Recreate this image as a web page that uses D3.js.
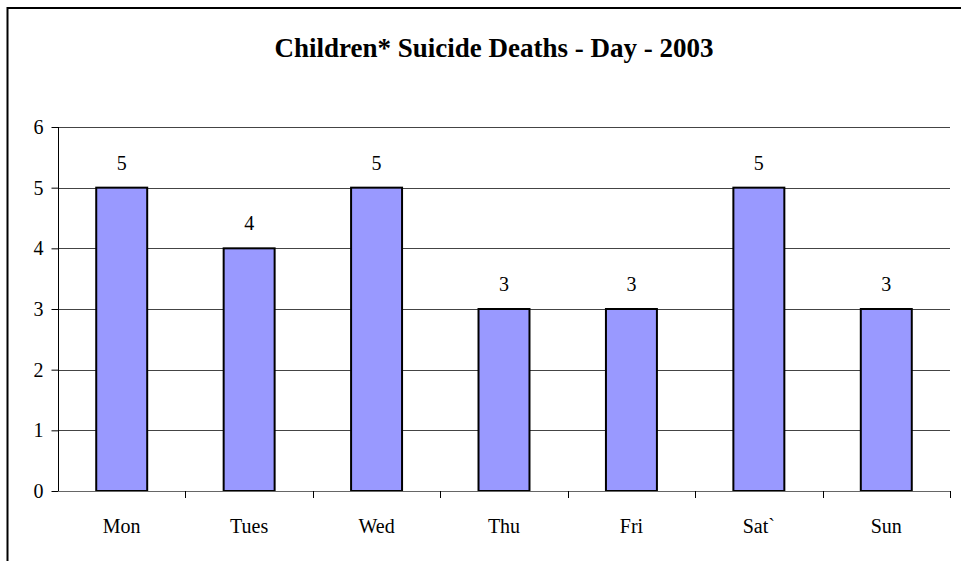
<!DOCTYPE html>
<html><head><meta charset="utf-8">
<script src="https://cdn.jsdelivr.net/npm/d3@7"></script>
<style>body{margin:0;background:#fff}svg{display:block}
svg text{font-family:"Liberation Serif","Times New Roman",Times,"DejaVu Serif",serif !important;}</style>
</head><body>
<script>
const title = "Children* Suicide Deaths - Day - 2003";
const categories = ["Mon","Tues","Wed","Thu","Fri","Sat`","Sun"];
const values = [5,4,5,3,3,5,3];
const yTicks = [0,1,2,3,4,5,6];

const W = 961, H = 561;
const m = {left:58, right:11, top:127, bottom:70};
const svg = d3.select("body").append("svg").attr("width",W).attr("height",H);

// outer frame (clipped)
svg.append("path").attr("d","M7.5,561 V8 H961").attr("fill","none").attr("stroke","#000").attr("stroke-width",2);

const x = d3.scaleBand().domain(categories).range([m.left, W-m.right]).paddingInner(0).paddingOuter(0);
const y = d3.scaleLinear().domain([0,6]).range([H-m.bottom, m.top]);

// gridlines
svg.append("g").selectAll("line").data(yTicks.filter(d=>d>0)).join("line")
  .attr("x1",m.left).attr("x2",W-m.right)
  .attr("y1",d=>Math.round(y(d))+0.5).attr("y2",d=>Math.round(y(d))+0.5)
  .attr("stroke","#444").attr("stroke-width",1);

// y axis
const yAxis = svg.append("g").attr("transform",`translate(${m.left+0.5},0)`)
  .call(d3.axisLeft(y).tickValues(yTicks).tickSize(7).tickPadding(8).tickFormat(d3.format("d")));
yAxis.select(".domain").attr("stroke","#000").attr("d",`M0,${y(6)}V${y(0)}`);
yAxis.selectAll(".tick line").attr("stroke","#000");
yAxis.selectAll("text").attr("font-size",20).attr("fill","#000");

// bars
const bw = x.bandwidth()*0.4;
svg.append("g").selectAll("rect").data(values).join("rect")
  .attr("x",(d,i)=>x(categories[i])+x.bandwidth()/2-bw/2)
  .attr("y",d=>y(d))
  .attr("width",bw)
  .attr("height",d=>y(0)-y(d))
  .attr("fill","#9999FF").attr("stroke","#000").attr("stroke-width",2);

// x axis
const xAxis = svg.append("g").attr("transform",`translate(0,${Math.round(y(0))+0.5})`)
  .call(d3.axisBottom(x).tickSize(0).tickPadding(27));
xAxis.select(".domain").attr("stroke","#666").attr("d",`M${m.left},0H${W-m.right}`);
xAxis.selectAll("text").attr("font-size",20).attr("fill","#000");
// category boundary ticks
const bounds = categories.map(c=>x(c)).concat([x.range()[1]]).slice(1);
svg.append("g").selectAll("line").data(bounds).join("line")
  .attr("x1",d=>Math.round(d)+0.5).attr("x2",d=>Math.round(d)+0.5)
  .attr("y1",y(0)).attr("y2",y(0)+7).attr("stroke","#000");

// value labels
svg.append("g").selectAll("text").data(values).join("text")
  .attr("x",(d,i)=>x(categories[i])+x.bandwidth()/2)
  .attr("y",d=>y(d)-18)
  .attr("text-anchor","middle").attr("font-size",20)
  .text(d=>d);

// title
svg.append("text").attr("x",494).attr("y",57).attr("text-anchor","middle")
  .attr("font-size",27).attr("font-weight","bold").text(title);
</script>
</body></html>
